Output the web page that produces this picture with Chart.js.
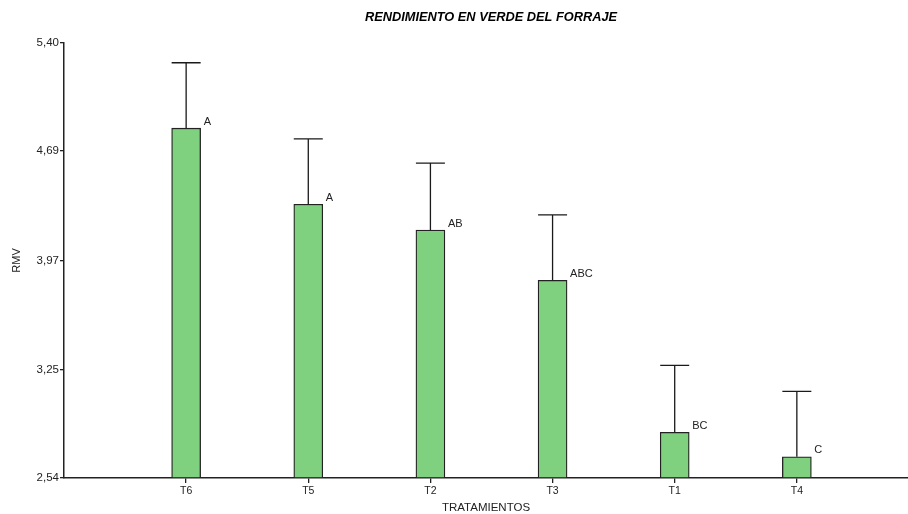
<!DOCTYPE html>
<html><head><meta charset="utf-8">
<script src="https://cdn.jsdelivr.net/npm/chart.js@4"></script>
<style>html,body{margin:0;padding:0;background:#fff}canvas{display:block}</style>
</head><body>
<canvas id="c" width="908" height="514"></canvas>
<script>
const categories = ['T6', 'T5', 'T2', 'T3', 'T1', 'T4'];
const means = [4.84, 4.34, 4.17, 3.84, 2.84, 2.68];
const upper = [5.27, 4.77, 4.61, 4.27, 3.28, 3.11];
const letters = ['A', 'A', 'AB', 'ABC', 'BC', 'C'];
const yTicks = [2.54, 3.25, 3.97, 4.69, 5.40];
const chartTitle = 'RENDIMIENTO EN VERDE DEL FORRAJE';
const xTitle = 'TRATAMIENTOS';
const yTitle = 'RMV';
const FONT = "'Liberation Sans', Arial, sans-serif";
const TXT = '#222';

const extras = {
  id: 'extras',
  afterDatasetsDraw(chart) {
    const { ctx, scales: { y } } = chart;
    const meta = chart.getDatasetMeta(0);
    ctx.save();
    ctx.strokeStyle = '#1a1a1a';
    ctx.lineWidth = 1.3;
    meta.data.forEach((bar, i) => {
      const cx = bar.x;
      const top = y.getPixelForValue(upper[i]);
      const half = bar.width / 2;
      ctx.beginPath();
      ctx.moveTo(cx, bar.y); ctx.lineTo(cx, top);
      ctx.moveTo(cx - half, top); ctx.lineTo(cx + half, top);
      ctx.stroke();
      ctx.fillStyle = TXT;
      ctx.font = '11px ' + FONT;
      ctx.textBaseline = 'alphabetic';
      ctx.textAlign = 'left';
      ctx.fillText(letters[i], cx + half + 3, bar.y - 3.5);
    });
    ctx.font = 'italic bold 12.8px ' + FONT;
    ctx.textAlign = 'center';
    ctx.textBaseline = 'middle';
    ctx.fillStyle = '#000';
    ctx.fillText(chartTitle, (chart.chartArea.left + chart.chartArea.right) / 2 + 5, 17);
    ctx.restore();
  }
};

new Chart(document.getElementById('c'), {
  type: 'bar',
  data: {
    datasets: [{
      data: means.map((v, i) => ({ x: i + 1, y: v })),
      backgroundColor: '#80D17F',
      borderColor: '#222',
      borderWidth: 1.3,
      barThickness: 29,
      base: yTicks[0]
    }]
  },
  options: {
    responsive: false,
    devicePixelRatio: 1,
    animation: false,
    layout: { padding: { top: 43, right: 0, bottom: 0, left: 0 } },
    plugins: { legend: { display: false }, tooltip: { enabled: false }, title: { display: false } },
    scales: {
      x: {
        type: 'linear',
        offset: false,
        min: 0,
        max: 6.91,
        afterBuildTicks: s => { s.ticks = categories.map((c, i) => ({ value: i + 1 })); },
        afterFit: s => { s.height = 36; },
        ticks: {
          autoSkip: false,
          maxRotation: 0,
          padding: 2,
          color: TXT,
          font: { family: FONT, size: 10.5 },
          callback: v => categories[v - 1]
        },
        grid: { display: true, offset: false, drawOnChartArea: false, drawTicks: true, tickLength: 5, color: '#222', lineWidth: 1.3 },
        border: { display: true, color: '#222', width: 1.5 },
        title: { display: true, text: xTitle, color: TXT, font: { family: FONT, size: 11.5, lineHeight: 1 }, padding: { top: 0, bottom: 0 } }
      },
      y: {
        min: yTicks[0],
        max: yTicks[yTicks.length - 1],
        afterBuildTicks: s => { s.ticks = yTicks.map(v => ({ value: v })); },
        afterFit: s => { s.width = 64; },
        ticks: {
          padding: 1,
          color: TXT,
          font: { family: FONT, size: 11.5 },
          callback: v => v.toFixed(2).replace('.', ',')
        },
        grid: { display: true, drawOnChartArea: false, drawTicks: true, tickLength: 4, color: '#222', lineWidth: 1.3 },
        border: { display: true, color: '#222', width: 1.5 },
        title: { display: true, text: yTitle, color: TXT, font: { family: FONT, size: 11 }, padding: { top: 10, bottom: 0 } }
      }
    }
  },
  plugins: [extras]
});
</script>
</body></html>
